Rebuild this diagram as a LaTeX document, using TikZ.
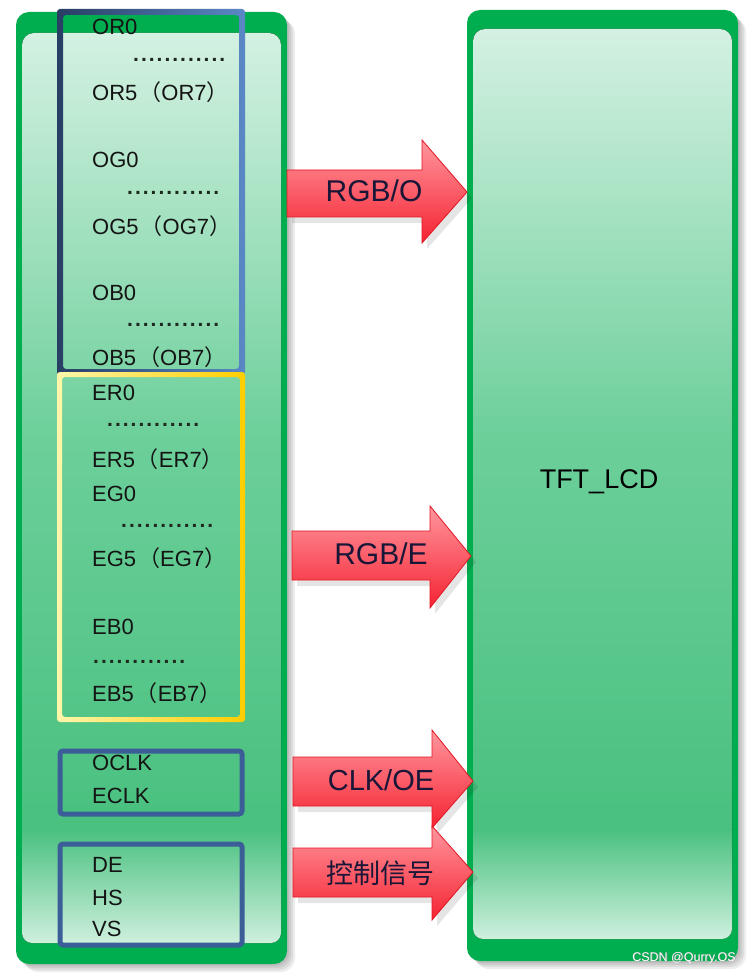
\documentclass[tikz,border=0pt]{standalone}
\usepackage{fontspec}
\setmainfont{Liberation Sans}
\newfontfamily\cjk{Noto Sans CJK SC}
\usetikzlibrary{calc}
\definecolor{pgreen}{RGB}{0,174,80}
\definecolor{gtop}{RGB}{212,241,226}
\definecolor{gmid}{RGB}{108,207,154}
\definecolor{gbot}{RGB}{72,192,126}
\definecolor{glossb}{RGB}{206,240,222}
\definecolor{bluel}{RGB}{40,62,100}
\definecolor{bluer}{RGB}{90,136,198}
\definecolor{yell}{RGB}{255,246,170}
\definecolor{yelr}{RGB}{255,206,0}
\definecolor{boxblue}{RGB}{60,94,152}
\definecolor{arlight}{RGB}{255,150,158}
\definecolor{arred}{RGB}{245,35,50}
\definecolor{aredge}{RGB}{228,22,34}
\definecolor{lbltext}{RGB}{20,20,20}
\definecolor{dottext}{RGB}{30,40,30}
\definecolor{artext}{RGB}{25,22,55}
\newcommand\dotrow{\foreach \k in {1,...,12}{.\kern2.0pt}}
\newcommand\fw[1]{{\cjk #1}}
\begin{document}
\begin{tikzpicture}[x=1pt,y=-1pt,
  lbl/.style={anchor=base west, font=\fontsize{22}{24}\selectfont, text=lbltext, inner sep=0pt},
  dotlbl/.style={anchor=base west, font=\bfseries\fontsize{21}{24}\selectfont, text=dottext, inner sep=0pt},
  arlbl/.style={font=\fontsize{30}{32}\selectfont, text=artext, inner sep=0pt},
  redarrow/.style={top color=arlight, bottom color=arred, draw=aredge, line width=0.8pt, line join=miter},
  arshadow/.style={fill=black, opacity=0.10},
  panelshadow/.style={fill=black, opacity=0.07, rounded corners=14pt},
  outerpanel/.style={fill=pgreen, rounded corners=13pt},
  innerpanel/.style={top color=gtop, bottom color=gbot, middle color=gmid, rounded corners=12pt},
  gloss/.style={top color=gbot, bottom color=glossb},
  sigbox/.style={draw=boxblue, line width=5pt, rounded corners=3pt},
]
\useasboundingbox (0,0) rectangle (753,976);
\fill[white] (0,0) rectangle (753,976);

% ---------- panel shadows
\foreach \d in {2,4,6,8}{
  \fill[panelshadow] (16+\d,12+\d) rectangle (287+\d,964+\d);
  \fill[panelshadow] (467+\d,10+\d) rectangle (738+\d,961+\d);
}

% ---------- left panel
\fill[outerpanel] (16,12) rectangle (287,964);
\fill[innerpanel] (22,33) rectangle (281,842);
\fill[gloss] (22,828) -- (281,828) -- (281,933) to[out=-90,in=0] (271,943) -- (32,943) to[out=180,in=-90] (22,933) -- cycle;

% ---------- right panel
\fill[outerpanel] (467,10) rectangle (738,961);
\fill[innerpanel] (473,29) rectangle (732,842);
\fill[gloss] (473,828) -- (732,828) -- (732,929) to[out=-90,in=0] (722,939) -- (483,939) to[out=180,in=-90] (473,929) -- cycle;

\node (tft) at (599,482) {\fontsize{27}{30}\selectfont TFT\_LCD};

% ---------- labels, odd group
\node[lbl] (or0) at (92,35) {OR0};
\node[dotlbl] (dr1) at (133,62) {\dotrow};
\node[lbl] (or5) at (92,101) {OR5\kern2pt\fw{（}OR7\fw{）}};
\node[lbl] (og0) at (92,168) {OG0};
\node[dotlbl] (dg1) at (127,195) {\dotrow};
\node[lbl] (og5) at (92,234) {OG5\kern2pt\fw{（}OG7\fw{）}};
\node[lbl] (ob0) at (92,300) {OB0};
\node[dotlbl] (db1) at (127,326) {\dotrow};
\node[lbl] (ob5) at (92,365) {OB5\kern2pt\fw{（}OB7\fw{）}};

% ---------- labels, even group
\node[lbl] (er0) at (92,400) {ER0};
\node[dotlbl] (dr2) at (107,426) {\dotrow};
\node[lbl] (er5) at (92,467) {ER5\kern2pt\fw{（}ER7\fw{）}};
\node[lbl] (eg0) at (92,501) {EG0};
\node[dotlbl] (dg2) at (121,527) {\dotrow};
\node[lbl] (eg5) at (92,566) {EG5\kern2pt\fw{（}EG7\fw{）}};
\node[lbl] (eb0) at (92,634) {EB0};
\node[dotlbl] (db2) at (93,663) {\dotrow};
\node[lbl] (eb5) at (92,701) {EB5\kern2pt\fw{（}EB7\fw{）}};

% ---------- clocks and controls
\node[lbl] (oclk) at (92,770) {OCLK};
\node[lbl] (eclk) at (92,803) {ECLK};
\node[lbl] (de) at (92,872) {DE};
\node[lbl] (hs) at (92,905) {HS};
\node[lbl] (vs) at (92,936) {VS};

% ---------- group frames
\path[left color=bluel, right color=bluer, even odd rule, rounded corners=3pt]
  (57,9) rectangle (245,375) (63,15) rectangle (239,369);
\path[left color=yell, right color=yelr, even odd rule, rounded corners=3pt]
  (57,372) rectangle (245,722) (62,377) rectangle (240,717);
\draw[sigbox] (60,751) rectangle (242,814);
\draw[sigbox] (60,844) rectangle (242,945);

% ---------- arrows: shadows
\foreach \lx/\nx/\tx/\bt/\bb/\ht/\hb/\ty in
  {287/422/467/170/217/140/243/192,
   292/430/471/531/580/506/608/556,
   293/432/473/757/806/730/828/781,
   293/432/473/848/897/826/920/872}{
  \fill[arshadow] (\lx+5,\bt+6) -- (\nx+5,\bt+6) -- (\nx+5,\ht+6) -- (\tx+5,\ty+6) -- (\nx+5,\hb+6) -- (\nx+5,\bb+6) -- (\lx+5,\bb+6) -- cycle;
}

% ---------- arrows
\path[redarrow] (287,170) -- (422,170) -- (422,140) -- (467,192) -- (422,243) -- (422,217) -- (287,217) -- cycle;
\node[arlbl] (rgbo) at (374,191) {RGB/O};

\path[redarrow] (292,531) -- (430,531) -- (430,506) -- (471,556) -- (430,608) -- (430,580) -- (292,580) -- cycle;
\node[arlbl] (rgbe) at (381,554) {RGB/E};

\path[redarrow] (293,757) -- (432,757) -- (432,730) -- (473,781) -- (432,828) -- (432,806) -- (293,806) -- cycle;
\node[arlbl, font=\fontsize{29}{31}\selectfont] (clkoe) at (381,780) {CLK/OE};

\path[redarrow] (293,848) -- (432,848) -- (432,826) -- (473,872) -- (432,920) -- (432,897) -- (293,897) -- cycle;
\node[arlbl, font=\cjk\fontsize{27}{30}\selectfont] (ctrl) at (380,873) {控制信号};

% ---------- watermark
\node[text=black!45, font=\fontsize{12.5}{14}\selectfont, inner sep=0pt] (wm0) at (684.6,958.6) {CSDN @Qurry.OS};
\node[text=white, font=\fontsize{12.5}{14}\selectfont, inner sep=0pt] (wm) at (684,958) {CSDN @Qurry.OS};
\end{tikzpicture}
\end{document}
